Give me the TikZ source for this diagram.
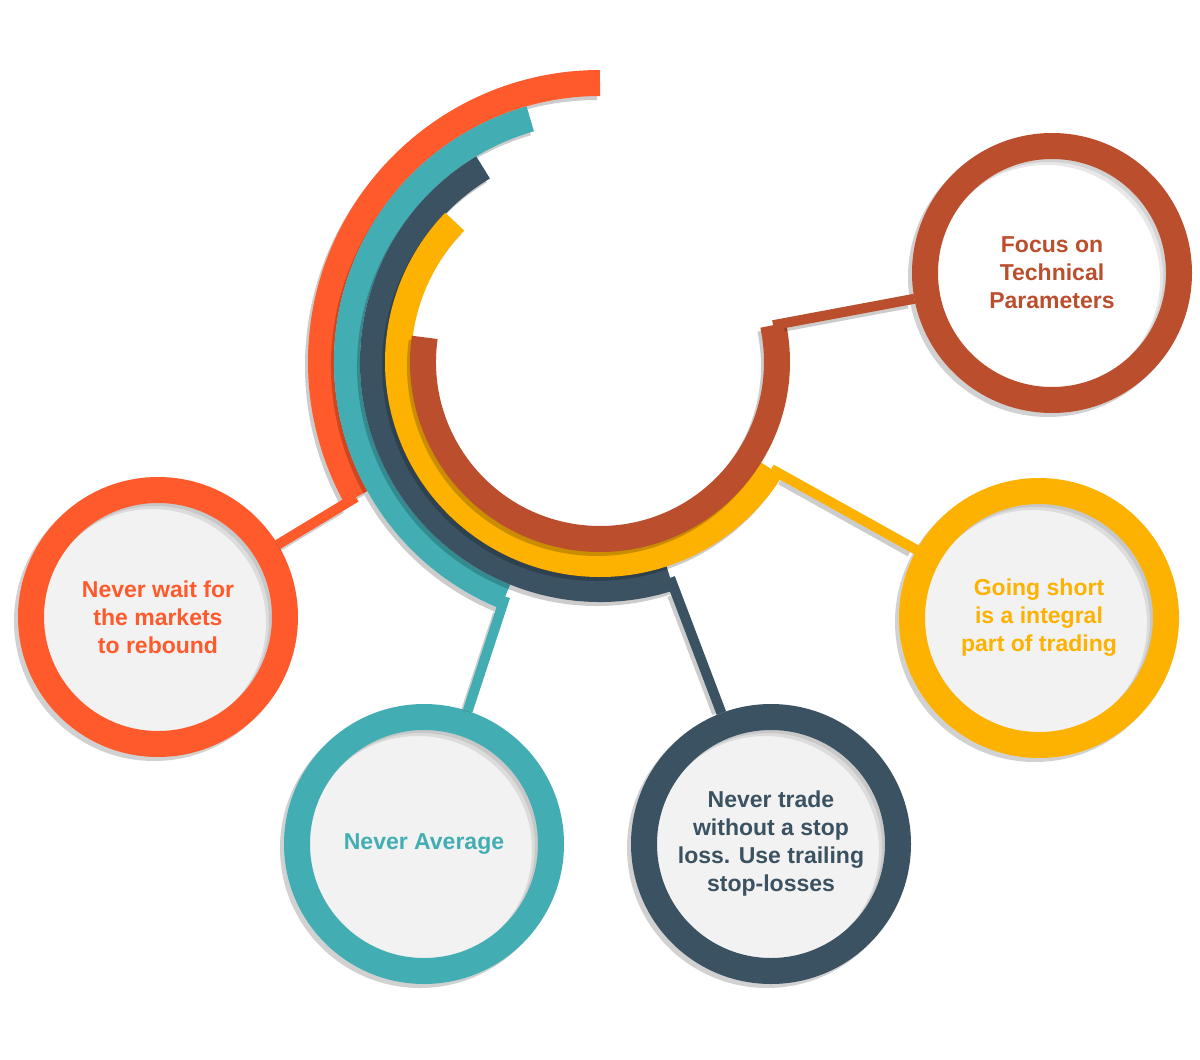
\documentclass[tikz,border=0pt]{standalone}
\usepackage{fontspec}
\setmainfont{Liberation Sans}

\definecolor{tipOrange}{HTML}{FF5A2B}
\definecolor{tipTeal}{HTML}{42AEB3}
\definecolor{tipSlate}{HTML}{3A5261}
\definecolor{tipYellow}{HTML}{FDB100}
\definecolor{tipRust}{HTML}{BB4E2D}
\definecolor{discGray}{HTML}{F2F2F2}

\tikzset{
  tipring/.style={circle, draw=#1, text=#1, fill=discGray, line width=13pt,
    minimum size=127pt, inner sep=0pt, align=center,
    font=\bfseries\fontsize{11.5}{14}\selectfont,
    preaction={draw=black, fill=none, line width=13pt, opacity=0.18,
      transform canvas={shift={(-2pt,-2pt)}}},
    path picture={
      \draw[black, opacity=0.09, line width=10pt]
        ([shift={(-3pt,-3pt)}]path picture bounding box.center) circle[radius=62pt];
      \draw[black, opacity=0.09, line width=10pt]
        ([shift={(-1.5pt,-1.5pt)}]path picture bounding box.center) circle[radius=62pt];
    }},
  tipband/.style={draw=#1, line width=13pt},
  tiplink/.style={draw=#1, line width=5pt},
  castshadow/.style={draw=black, opacity=0.2, transform canvas={shift={(-1.5pt,-2pt)}}},
}

\begin{document}
\begin{tikzpicture}[x=0.5pt,y=0.5pt]
    \useasboundingbox (0,0) rectangle (1200,-1060);
    \coordinate (ctr) at (600,-362);

    % arcs, outermost first
    \foreach \col/\a/\b/\r in {tipOrange/90/209/279, tipTeal/106/248/253,
        tipSlate/121/288/227, tipYellow/136/328/202, tipRust/172/372/177}{
      \draw[castshadow, line width=13pt] ([shift={(\a:\r)}]ctr)
        arc[start angle=\a, end angle=\b, radius=\r];
      \draw[tipband=\col] ([shift={(\a:\r)}]ctr)
        arc[start angle=\a, end angle=\b, radius=\r];
    }

    % arc ends
    \coordinate (waitEnd) at ([shift={(209:279)}]ctr);
    \coordinate (avgEnd) at ([shift={(248:253)}]ctr);
    \coordinate (stopEnd) at ([shift={(288:227)}]ctr);
    \coordinate (shortEnd) at ([shift={(328:202)}]ctr);
    \coordinate (focusEnd) at ([shift={(372:177)}]ctr);

    \node[tipring=tipRust, fill=white] (focus) at (1052,-273) {Focus on\\Technical\\Parameters};
    \node[tipring=tipYellow] (short) at (1039,-618) {Going short\\is a integral\\part of trading};
    \node[tipring=tipSlate] (stop) at (771,-844) {Never trade\\without a stop\\loss. Use trailing\\stop-losses};
    \node[tipring=tipTeal] (avg) at (424,-844) {Never Average};
    \node[tipring=tipOrange] (wait) at (158,-617) {Never wait for\\the markets\\to rebound};

    % connectors
    \foreach \s/\t/\col in {waitEnd/wait/tipOrange, avgEnd/avg/tipTeal,
        stopEnd/stop/tipSlate, shortEnd/short/tipYellow, focusEnd/focus/tipRust}{
      \draw[castshadow, line width=5pt, shorten <=7pt, shorten >=2pt] (\s) -- (\t);
      \draw[tiplink=\col] (\s) -- (\t);
    }

\end{tikzpicture}
\end{document}
